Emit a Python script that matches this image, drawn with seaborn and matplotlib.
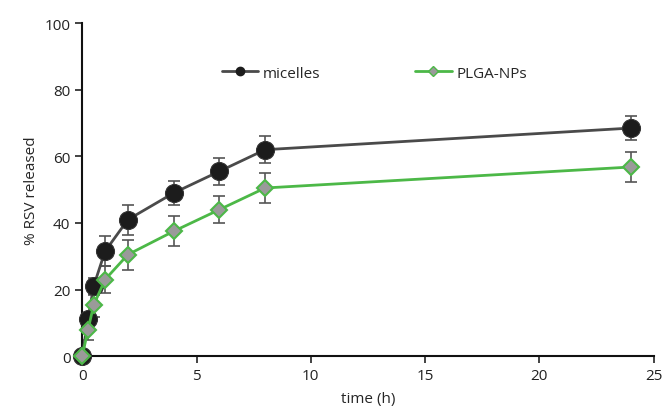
import matplotlib
matplotlib.use("Agg")
import matplotlib.pyplot as plt
from matplotlib.lines import Line2D
import seaborn as sns
import pandas as pd
import numpy as np

time_h = [0, 0.25, 0.5, 1, 2, 4, 6, 8, 24]
micelles = [0, 11, 21, 31.5, 41, 49, 55.5, 62, 68.5]
micelles_err = [0.5, 2, 2.5, 4.5, 4.5, 3.5, 4, 4, 3.5]
plga = [0, 7.8, 15.3, 23, 30.5, 37.5, 44, 50.5, 56.8]
plga_err = [0.5, 3, 3.5, 4, 4.5, 4.5, 4, 4.5, 4.5]

sns.set_style("ticks")
plt.rcParams['font.family'] = ['Open Sans', 'DejaVu Sans']

fig = plt.figure(figsize=(6.63, 4.10), dpi=100)
ax = fig.add_axes([0.124, 0.129, 0.862, 0.812])

df = pd.DataFrame({
    "time": time_h * 2,
    "val": micelles + plga,
    "series": ["micelles"] * len(time_h) + ["PLGA-NPs"] * len(time_h),
})

ax.errorbar(time_h, micelles, yerr=micelles_err, fmt="none", ecolor="#555555",
            elinewidth=1.2, capsize=4, capthick=1.2, zorder=2)
ax.errorbar(time_h, plga, yerr=plga_err, fmt="none", ecolor="#555555",
            elinewidth=1.2, capsize=4, capthick=1.2, zorder=2)

sns.lineplot(data=df[df.series == "micelles"], x="time", y="val", ax=ax,
             color="#4a4a4a", linewidth=2, marker="o", markersize=13,
             markerfacecolor="#1c1c1c", markeredgecolor="#333333",
             legend=False, zorder=3)
sns.lineplot(data=df[df.series == "PLGA-NPs"], x="time", y="val", ax=ax,
             color="#4cb847", linewidth=2, marker="D", markersize=8.5,
             markerfacecolor="#9a9a9a", markeredgecolor="#4cb847",
             markeredgewidth=1.5, legend=False, zorder=4)

ax.set_xlim(0, 25)
ax.set_ylim(0, 100)
ax.set_xticks([0, 5, 10, 15, 20, 25])
ax.set_yticks([0, 20, 40, 60, 80, 100])
ax.set_xlabel("time (h)", fontsize=11, labelpad=6)
ax.set_ylabel("% RSV released", fontsize=11)
ax.tick_params(labelsize=11, length=5, width=1.2, colors="#222222")
for s in ["left", "bottom"]:
    ax.spines[s].set_linewidth(1.5)
    ax.spines[s].set_color("#111111")
sns.despine(ax=ax)

handles = [
    Line2D([], [], color="#4a4a4a", lw=2, marker="o", markersize=6,
           markerfacecolor="#1c1c1c", markeredgecolor="#1c1c1c"),
    Line2D([], [], color="#4cb847", lw=2, marker="D", markersize=5,
           markerfacecolor="#9a9a9a", markeredgecolor="#4cb847"),
]
ax.legend(handles, ["micelles", "PLGA-NPs"], loc="center left",
          bbox_to_anchor=(0.22, 0.85), ncol=2, frameon=False, fontsize=11,
          columnspacing=6.2, handlelength=2.4, handletextpad=0.3)
for line in ax.lines:
    line.set_clip_on(False)
for c in ax.collections:
    c.set_clip_on(False)

fig.savefig("out.png", dpi=100)
